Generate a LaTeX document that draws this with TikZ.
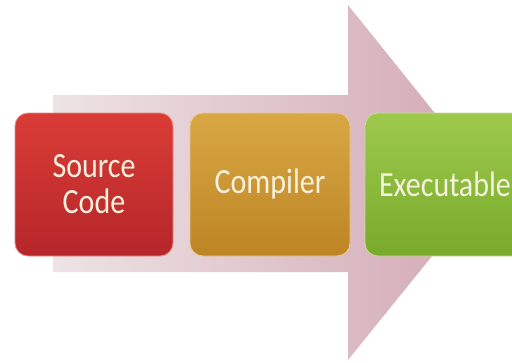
\documentclass[tikz,border=0pt]{standalone}
\usepackage{fontspec}
\setmainfont{Carlito}
\newcommand{\tallx}[1]{\scalebox{1}[1.18]{#1}}
\begin{document}
\begin{tikzpicture}[x=1pt,y=-1pt,
  stagebox/.style={rounded corners=13pt, line width=0.8pt,
    minimum height=143pt, inner sep=0pt, align=center,
    font=\fontsize{30}{34}\selectfont, text=textcol},
]
\definecolor{textcol}{HTML}{F6F1DE}
\definecolor{arrL}{HTML}{EDE3E5}
\definecolor{arrR}{HTML}{D2A7B3}
\definecolor{redT}{HTML}{DA3C36}
\definecolor{redB}{HTML}{B5262A}
\definecolor{orT}{HTML}{D9A845}
\definecolor{orB}{HTML}{BE8424}
\definecolor{grT}{HTML}{9ECA4C}
\definecolor{grB}{HTML}{78AA2C}
\useasboundingbox (0,0) rectangle (512,362);
\fill[white] (0,0) rectangle (512,362);
% big arrow
\shade[left color=arrL, right color=arrR]
  (53,95) -- (348,95) -- (348,5) -- (491,183) -- (348,360) -- (348,272) -- (53,272) -- cycle;
% stage boxes
\node[stagebox, minimum width=158pt, top color=redT, bottom color=redB, draw=redT!60!white]
  (src) at (94,184.5) {\tallx{Source}\\[2pt]\tallx{Code}};
\node[stagebox, minimum width=160pt, top color=orT, bottom color=orB, draw=orT!60!white]
  (cmp) at (270,184.5) {\tallx{Compiler}};
\node[stagebox, minimum width=160pt, top color=grT, bottom color=grB, draw=grT!60!white]
  (exe) at (445,184.5) {\tallx{Executable}};
\end{tikzpicture}
\end{document}
